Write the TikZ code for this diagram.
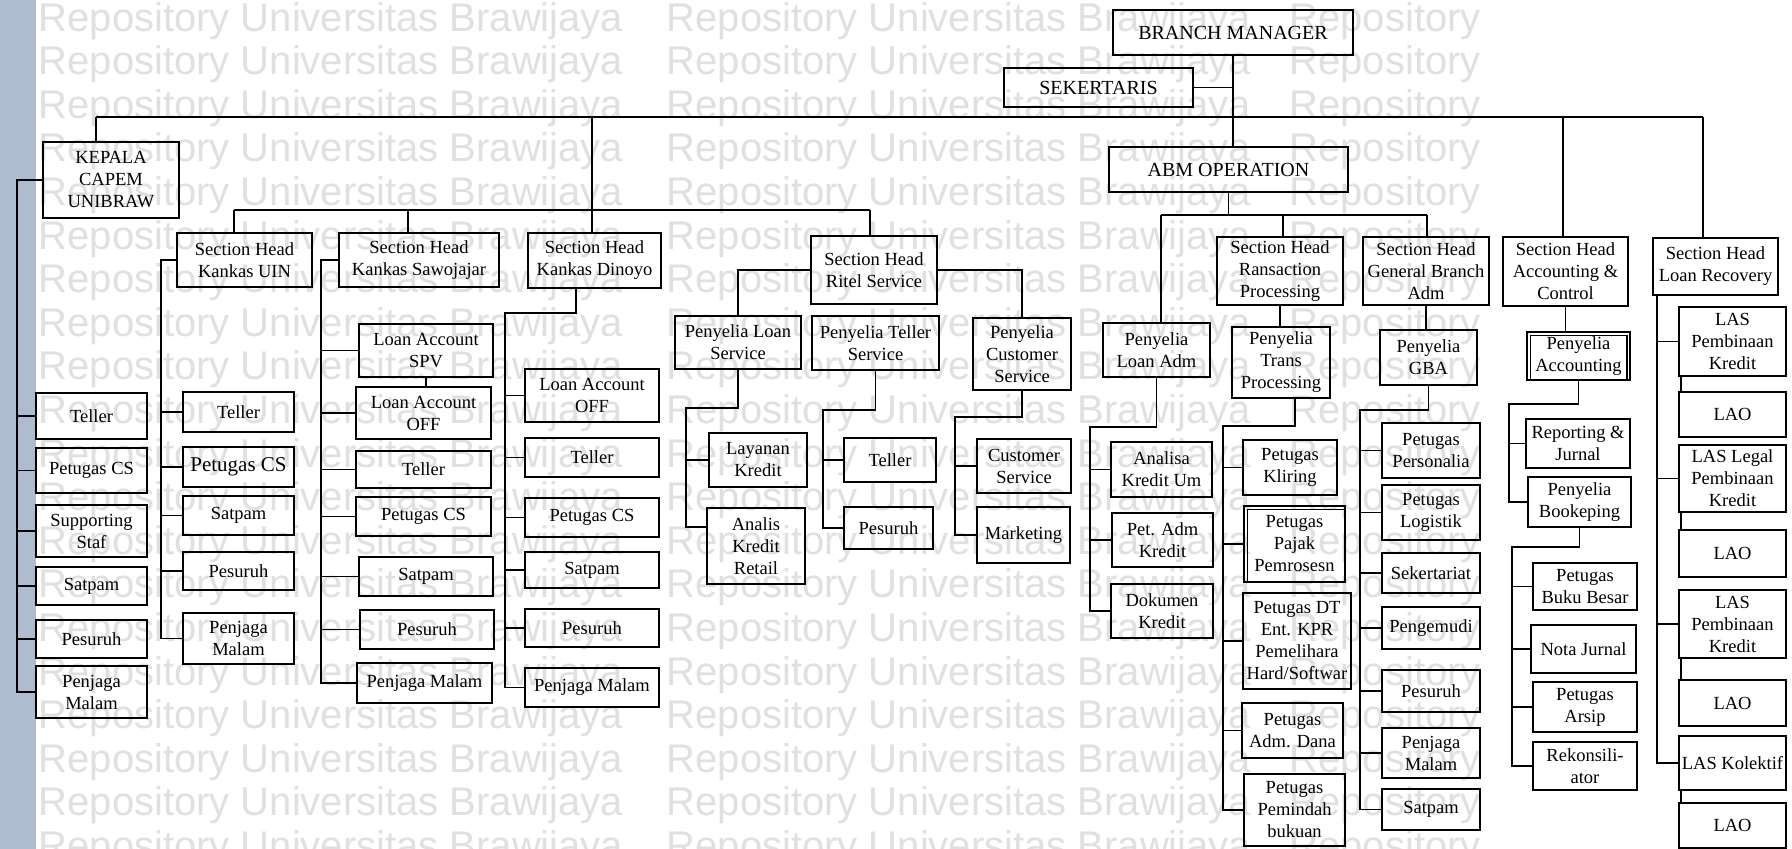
\documentclass[tikz,border=0pt]{standalone}
\usepackage{fontspec}
\setmainfont{Liberation Serif}
\setsansfont{Liberation Sans}
\usepackage{tikz}

\definecolor{stripblue}{HTML}{AFBBCF}

\begin{document}
\begin{tikzpicture}[x=1pt, y=-1pt,
  box/.style={draw, line width=1.8pt, align=center, inner sep=0pt, font=\fontsize{18.5}{22}\selectfont},
  bs/.style 2 args={minimum width=#1pt, minimum height=#2pt},
  head/.style={font=\fontsize{20}{24}\selectfont},
  link/.style={line width=1.8pt},
  wm/.style={text=black!12, font=\sffamily\fontsize{40}{42}\selectfont, anchor=base}]

\useasboundingbox (0,0) rectangle (1792,849);
\clip (0,0) rectangle (1792,849);
\fill[white] (0,0) rectangle (1792,849);
\fill[stripblue] (0,0) rectangle (36,849);
\foreach \k in {0,...,19} {
  \node[wm] at (331,31+43.6*\k) {Repository Universitas Brawijaya};
  \node[wm] at (959,31+43.6*\k) {Repository Universitas Brawijaya};
  \node[wm, anchor=base west] at (1286,31+43.6*\k) {Repository};
}

% top
\node[box, head, bs={240}{45}] (bm) at (1233,32.5) {BRANCH MANAGER};
\node[box, head, bs={189}{39}] (sek) at (1098.5,87.5) {SEKERTARIS};
\node[box, head, bs={239}{45}] (abm) at (1228.5,169.5) {ABM OPERATION};

% kepala capem
\node[box, bs={136}{76}] (kep) at (111,180) {KEPALA\\CAPEM\\UNIBRAW};
\node[box, bs={111}{46}] (kt) at (91.5,416) {Teller};
\node[box, bs={111}{45}] (kcs) at (91.5,470.5) {Petugas CS};
\node[box, bs={111}{52}] (kss) at (91.5,531) {Supporting\\Staf};
\node[box, bs={111}{38}] (ksat) at (91.5,586) {Satpam};
\node[box, bs={111}{38}] (kpes) at (91.5,639) {Pesuruh};
\node[box, bs={111}{52}] (kpm) at (91.5,692) {Penjaga\\Malam};

% kankas uin
\node[box, bs={135}{54}] (uin) at (244.5,260) {Section Head\\Kankas UIN};
\node[box, bs={111}{40}] (ut) at (238.5,412) {Teller};
\node[box, bs={111}{40}, font=\fontsize{21}{24}\selectfont] (ucs) at (238.5,467) {Petugas CS};
\node[box, bs={111}{39}] (usat) at (238.5,515.5) {Satpam};
\node[box, bs={111}{38}] (upes) at (238.5,571) {Pesuruh};
\node[box, bs={111}{51}] (upm) at (238.5,638.5) {Penjaga\\Malam};

% kankas sawojajar
\node[box, bs={160}{54}] (saw) at (419,260) {Section Head\\Kankas Sawojajar};
\node[box, bs={134}{53}] (sspv) at (426,350.5) {Loan Account\\SPV};
\node[box, bs={135}{52}] (soff) at (423.5,413) {Loan Account\\OFF};
\node[box, bs={135}{37}] (stel) at (423.5,469.5) {Teller};
\node[box, bs={135}{39}] (scs) at (423.5,516.5) {Petugas CS};
\node[box, bs={134}{39}] (ssat) at (426,576.5) {Satpam};
\node[box, bs={134}{39}] (spes) at (427,629.5) {Pesuruh};
\node[box, bs={135}{40}] (spm) at (424.5,683) {Penjaga Malam};

% kankas dinoyo
\node[box, bs={133}{55}] (din) at (594.5,260.5) {Section Head\\Kankas Dinoyo};
\node[box, bs={134}{53}] (doff) at (592,395.5) {Loan Account\\OFF};
\node[box, bs={134}{39}] (dtel) at (592,457.5) {Teller};
\node[box, bs={134}{39}] (dcs) at (592,517.5) {Petugas CS};
\node[box, bs={134}{36}] (dsat) at (592,570) {Satpam};
\node[box, bs={134}{38}] (dpes) at (592,628) {Pesuruh};
\node[box, bs={134}{39}] (dpm) at (592,687.5) {Penjaga Malam};

% ritel service
\node[box, bs={126}{68}] (rit) at (874,270) {Section Head\\Ritel Service};
\node[box, bs={126}{53}] (pls) at (738,342.5) {Penyelia Loan\\Service};
\node[box, bs={127}{54}] (pts) at (875.5,343) {Penyelia Teller\\Service};
\node[box, bs={98}{72}] (pcs) at (1022,354) {Penyelia\\Customer\\Service};
\node[box, bs={98}{54}] (lk) at (758,460) {Layanan\\Kredit};
\node[box, bs={98}{76}] (akr) at (756,546) {Analis\\Kredit\\Retail};
\node[box, bs={92}{44}] (ptel) at (890,460) {Teller};
\node[box, bs={89}{42}] (ppes) at (888.5,528) {Pesuruh};
\node[box, bs={94}{54}] (cs) at (1024,466) {Customer\\Service};
\node[box, bs={93}{56}] (mkt) at (1023.5,535) {Marketing};

% abm operation
\node[box, bs={107}{54}] (pla) at (1156.5,350) {Penyelia\\Loan Adm};
\node[box, bs={101}{55}] (ak) at (1161.5,469.5) {Analisa\\Kredit Um};
\node[box, bs={101}{54}] (pak) at (1162.5,540) {Pet. Adm\\Kredit};
\node[box, bs={102}{54}] (dk) at (1162,611) {Dokumen\\Kredit};
\node[box, bs={126}{68}] (shr) at (1280,271) {Section Head\\Ransaction\\Processing};
\node[box, bs={98}{71}] (ptp) at (1281,362.5) {Penyelia\\Trans\\Processing};
\node[box, bs={94}{55}] (pk) at (1290,467.5) {Petugas\\Kliring};
\node[box, bs={101}{76}] (ppj) at (1294.5,544) {Petugas\\Pajak\\Pemrosesn};
\node[box, bs={108}{96}] (pdt) at (1297,641) {Petugas DT\\Ent. KPR\\Pemelihara\\Hard/Softwar};
\node[box, bs={101}{55}] (pad) at (1292.5,730.5) {Petugas\\Adm. Dana};
\node[box, bs={101}{72}] (ppb) at (1294.5,810) {Petugas\\Pemindah\\bukuan};
\node[box, bs={126}{68}] (shg) at (1426,271) {Section Head\\General Branch\\Adm};
\node[box, bs={97}{55}] (pgba) at (1428.5,357.5) {Penyelia\\GBA};
\node[box, bs={98}{55}] (gper) at (1431,450.5) {Petugas\\Personalia};
\node[box, bs={98}{55}] (glog) at (1431,512.5) {Petugas\\Logistik};
\node[box, bs={98}{40}] (gsek) at (1431,573) {Sekertariat};
\node[box, bs={98}{42}] (gpeng) at (1431,628) {Pengemudi};
\node[box, bs={98}{42}] (gpes) at (1431,691) {Pesuruh};
\node[box, bs={98}{50}] (gpm) at (1431,753) {Penjaga\\Malam};
\node[box, bs={98}{41}] (gsat) at (1431,809.5) {Satpam};

% accounting & control
\node[box, bs={125}{69}] (sha) at (1565.5,271.5) {Section Head\\Accounting \&\\Control};
\node[box, bs={103}{48}] (pac) at (1578.5,356) {Penyelia\\Accounting};
\node[box, bs={104}{49}] (rj) at (1578,443.5) {Reporting \&\\Jurnal};
\node[box, bs={103}{50}] (pbk) at (1579.5,502) {Penyelia\\Bookeping};
\node[box, bs={104}{47}] (pbb) at (1585,586.5) {Petugas\\Buku Besar};
\node[box, bs={105}{48}] (nj) at (1583.5,649) {Nota Jurnal};
\node[box, bs={104}{50}] (pars) at (1585,707) {Petugas\\Arsip};
\node[box, bs={104}{48}] (rk) at (1585,766) {Rekonsili-\\ator};

% loan recovery
\node[box, bs={125}{57}] (shl) at (1715.5,266.5) {Section Head\\Loan Recovery};
\node[box, bs={107}{69}] (las1) at (1732.5,341.5) {LAS\\Pembinaan\\Kredit};
\node[box, bs={107}{45}] (lao1) at (1732.5,414.5) {LAO};
\node[box, bs={107}{67}] (las2) at (1732.5,478.5) {LAS Legal\\Pembinaan\\Kredit};
\node[box, bs={107}{47}] (lao2) at (1732.5,553.5) {LAO};
\node[box, bs={107}{68}] (las3) at (1732.5,624) {LAS\\Pembinaan\\Kredit};
\node[box, bs={107}{46}] (lao3) at (1732.5,703) {LAO};
\node[box, bs={107}{54}] (las4) at (1732.5,763) {LAS Kolektif};
\node[box, bs={107}{45}] (lao4) at (1732.5,825.5) {LAO};

% inner rules of the doubled boxes
\draw[line width=1.2pt] ([xshift=4pt]pac.south west) -- ([xshift=4pt,yshift=-4pt]pac.north west) -- ([xshift=-4pt,yshift=-4pt]pac.north east) -- ([xshift=-4pt]pac.south east);
\draw[line width=1.2pt] ([xshift=4pt]ppj.south west) -- ([xshift=4pt,yshift=-4pt]ppj.north west) -- ([yshift=-4pt]ppj.north east);

% top lines
\coordinate (ml) at (96,117);
\coordinate (mr) at (1703,117);
\coordinate (mdin) at (592,117);
\coordinate (macc) at (1563,117);
\draw[link] (bm.south) -- (bm.south |- abm.north);
\draw[link] (sek.east) -- (sek.east -| bm.south);
\draw[link] (ml) -- (mr);
\draw[link] (ml) -- (ml |- kep.north);
\draw[link] (mdin) -- (mdin |- din.north);
\draw[link] (macc) -- (macc |- sha.north);
\draw[link] (mr) -- (mr |- shl.north);

% kankas line
\coordinate (sl) at (234,210);
\coordinate (ssaw) at (408,210);
\coordinate (sr) at (870,210);
\draw[link] (sl) -- (sr);
\draw[link] (sl) -- (sl |- uin.north);
\draw[link] (ssaw) -- (ssaw |- saw.north);
\draw[link] (sr) -- (sr |- rit.north);

% kepala column
\coordinate (kx) at (17,0);
\draw[link] (kep.west) -| (kx |- kpm.west) -- (kpm.west);
\foreach \n in {kt,kcs,kss,ksat,kpes} \draw[link] (\n.west) -- (\n.west -| kx);

% uin column
\coordinate (ux) at (161,0);
\draw[link] (uin.west) -| (ux |- upm.west) -- (upm.west);
\foreach \n in {ut,ucs,usat,upes} \draw[link] (\n.west) -- (\n.west -| ux);

% sawojajar column
\coordinate (sx) at (321,0);
\draw[link] (saw.west) -| (sx |- spm.west) -- (spm.west);
\foreach \n in {sspv,soff,stel,scs,ssat,spes} \draw[link] (\n.west) -- (\n.west -| sx);
\draw[link] (sspv.south) -- (sspv.south |- soff.north);

% dinoyo column
\coordinate (dturn) at (576,313);
\coordinate (dx) at (505,313);
\draw[link] (dturn |- din.south) -- (dturn) -- (dx) |- (dpm.west);
\foreach \n in {doff,dtel,dcs,dsat,dpes} \draw[link] (\n.west) -- (\n.west -| dx);

% ritel service
\draw[link] (rit.west) -| (pls.north);
\draw[link] (rit.east) -| (pcs.north);
\coordinate (lsx) at (686,408);
\draw[link] (pls.south) |- (lsx) |- ([yshift=19pt]akr.west);
\draw[link] (lk.west) -- (lk.west -| lsx);
\coordinate (tsx) at (823,410);
\draw[link] (pts.south) |- (tsx) |- (ppes.west);
\draw[link] (ptel.west) -- (ptel.west -| tsx);
\coordinate (csx) at (955,417);
\draw[link] (pcs.south) |- (csx) |- (mkt.west);
\draw[link] (cs.west) -- (cs.west -| csx);

% abm operation
\coordinate (al) at (1161,215);
\coordinate (ars) at (1283,215);
\coordinate (ar) at (1427,215);
\draw[link] (abm.south) -- (abm.south |- al);
\draw[link] (al) -- (ar);
\draw[link] (al) -- (al |- pla.north);
\draw[link] (ars) -- (ars |- shr.north);
\draw[link] (ar) -- (ar |- shg.north);
\coordinate (lax) at (1090,427);
\draw[link] (pla.south) |- (lax) |- (dk.west);
\foreach \n in {ak,pak} \draw[link] (\n.west) -- (\n.west -| lax);
\draw[link] (shr.south) -- (shr.south |- ptp.north);
\coordinate (tpx) at (1223,426);
\draw[link] ([xshift=14pt]ptp.south) |- (tpx) |- (ppb.west);
\foreach \n in {pk,ppj,pdt,pad} \draw[link] (\n.west) -- (\n.west -| tpx);
\draw[link] (shg.south) -- (shg.south |- pgba.north);
\coordinate (gx) at (1360,410);
\draw[link] (pgba.south) |- (gx) |- (gsat.west);
\foreach \n in {gper,glog,gsek,gpeng,gpes,gpm} \draw[link] (\n.west) -- (\n.west -| gx);

% accounting & control
\draw[link] (sha.south) -- (sha.south |- pac.north);
\coordinate (acx) at (1509,404);
\draw[link] (pac.south) |- (acx) |- (pbk.west);
\draw[link] (rj.west) -- (rj.west -| acx);
\coordinate (bkx) at (1512,547);
\draw[link] (pbk.south) |- (bkx) |- (rk.west);
\foreach \n in {pbb,nj,pars} \draw[link] (\n.west) -- (\n.west -| bkx);

% loan recovery
\coordinate (lrx) at (1657,0);
\draw[link] (shl.south -| lrx) |- (las4.west);
\foreach \n in {las1,las2,las3} \draw[link] (\n.west) -- (\n.west -| lrx);
\foreach \i in {1,...,4} \draw[link] ([xshift=3pt]las\i.south west) -- ([xshift=3pt]lao\i.north west);
\end{tikzpicture}
\end{document}
